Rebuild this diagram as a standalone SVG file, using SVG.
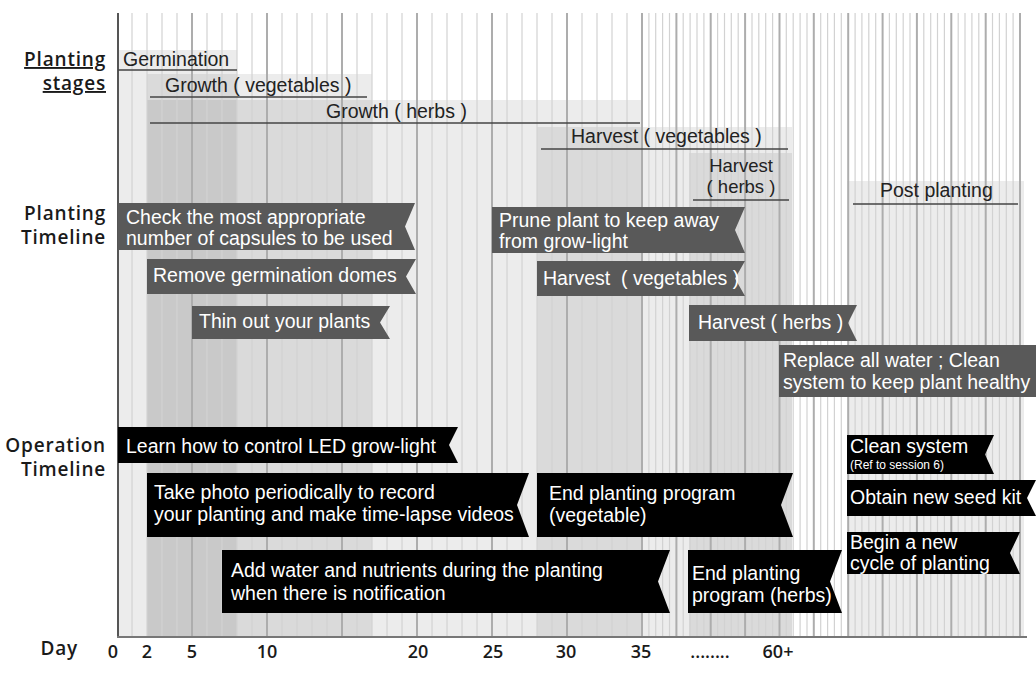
<svg xmlns="http://www.w3.org/2000/svg" width="1036" height="698" viewBox="0 0 1036 698">
<style>
.band{fill:#000;fill-opacity:0.075}
.thin{stroke:#d2d2d2;stroke-width:1.2;fill:none}
.dark{stroke:#adadad;stroke-width:2;fill:none}
.ul{stroke:#444;stroke-width:1.5}
.stage{font-family:"Liberation Sans",Arial,sans-serif;font-size:19.5px;fill:#222}
.side{font-family:"Open Sans","DejaVu Sans",sans-serif;font-weight:600;font-size:19px;letter-spacing:0.8px;fill:#1a1a1a;text-anchor:end}
.num{font-family:"Open Sans","DejaVu Sans",sans-serif;font-weight:600;font-size:18px;fill:#1a1a1a;text-anchor:middle}
.pb{fill:#595959}
.ob{fill:#000}
.bt{font-family:"Liberation Sans",Arial,sans-serif;font-size:19.5px;fill:#fff;white-space:pre}
.small{font-size:12px}
</style>
<g id="background">
<rect class="band" x="118" y="50" width="119" height="587"/>
<rect class="band" x="147" y="74" width="225" height="563"/>
<rect class="band" x="147" y="100" width="495" height="537"/>
<rect class="band" x="537" y="127" width="255" height="510"/>
<rect class="band" x="689" y="153" width="103" height="484"/>
<rect class="band" x="847" y="181" width="177" height="456"/>
<path class="thin" d="M132 13V637M147 13V637M162 13V637M177 13V637M207 13V637M222 13V637M237 13V637M252 13V637M282 13V637M297 13V637M312 13V637M327 13V637M357 13V637M372 13V637M387 13V637M402 13V637M432 13V637M447 13V637M462 13V637M477 13V637M507 13V637M522 13V637M537 13V637M552 13V637M582 13V637M597 13V637M612 13V637M627 13V637M648.9 13V637M655.7 13V637M662.6 13V637M669.5 13V637M683.2 13V637M690.1 13V637M697 13V637M703.9 13V637M717.6 13V637M724.5 13V637M731.3 13V637M738.2 13V637M752 13V637M758.8 13V637M765.7 13V637M772.6 13V637M786.3 13V637M793.2 13V637M800.1 13V637M807 13V637M820.7 13V637M827.6 13V637M834.4 13V637M841.3 13V637M855.1 13V637M861.9 13V637M868.8 13V637M875.7 13V637M889.4 13V637M896.3 13V637M903.2 13V637M910 13V637M923.8 13V637M930.7 13V637M937.5 13V637M944.4 13V637M958.2 13V637M965 13V637M971.9 13V637M978.8 13V637M992.5 13V637M999.4 13V637M1006.3 13V637M1013.1 13V637"/>
<path class="dark" d="M192 13V637M267 13V637M342 13V637M417 13V637M492 13V637M567 13V637M642 13V637M676.4 13V637M710.7 13V637M745.1 13V637M779.5 13V637M813.8 13V637M848.2 13V637M882.6 13V637M916.9 13V637M951.3 13V637M985.7 13V637M1020 13V637"/>
<line x1="118" y1="13" x2="118" y2="637" stroke="#555" stroke-width="2"/>
<line x1="117" y1="637" x2="1027" y2="637" stroke="#777" stroke-width="2"/>
</g>
<g id="labels">
<text class="side" x="106" y="66" text-decoration="underline">Planting</text>
<text class="side" x="106" y="90" text-decoration="underline">stages</text>
<text class="side" x="106" y="220">Planting</text>
<text class="side" x="106" y="244">Timeline</text>
<text class="side" x="106" y="452">Operation</text>
<text class="side" x="106" y="476">Timeline</text>
<text class="side" x="78" y="655">Day</text>
<text class="num" x="113" y="658">0</text>
<text class="num" x="147" y="658">2</text>
<text class="num" x="192" y="658">5</text>
<text class="num" x="267" y="658">10</text>
<text class="num" x="418" y="658">20</text>
<text class="num" x="493" y="658">25</text>
<text class="num" x="566" y="658">30</text>
<text class="num" x="641" y="658">35</text>
<text class="num" x="710" y="658">........</text>
<text class="num" x="778" y="658">60+</text>
</g>
<g id="stage-germination">
<text class="stage" x="123" y="66">Germination</text>
<line class="ul" x1="118" y1="70" x2="237" y2="70"/>
</g>
<g id="stage-growth-veg">
<text class="stage" x="165" y="92">Growth ( vegetables )</text>
<line class="ul" x1="150" y1="97" x2="367" y2="97"/>
</g>
<g id="stage-growth-herbs">
<text class="stage" x="326" y="118">Growth ( herbs )</text>
<line class="ul" x1="150" y1="123" x2="640" y2="123"/>
</g>
<g id="stage-harvest-veg">
<text class="stage" x="571" y="143">Harvest ( vegetables )</text>
<line class="ul" x1="541" y1="149" x2="788" y2="149"/>
</g>
<g id="stage-harvest-herbs">
<text class="stage" x="741" y="172" text-anchor="middle" style="font-size:18.5px">Harvest</text>
<text class="stage" x="741" y="193" text-anchor="middle" style="font-size:18.5px">( herbs )</text>
<line class="ul" x1="693" y1="200" x2="789" y2="200"/>
</g>
<g id="stage-post">
<text class="stage" x="880" y="197">Post planting</text>
<line class="ul" x1="853" y1="204" x2="1018" y2="204"/>
</g>
<g id="p1">
<path class="pb" d="M118 203H415L405 226.5L415 250H118Z"/>
<text class="bt" x="126" y="224">Check the most appropriate</text>
<text class="bt" x="126" y="245">number of capsules to be used</text>
</g>
<g id="p2">
<path class="pb" d="M147 259H416L406 276.5L416 294H147Z"/>
<text class="bt" x="153" y="282">Remove germination domes</text>
</g>
<g id="p3">
<path class="pb" d="M192 306H390L380 322.5L390 339H192Z"/>
<text class="bt" x="199" y="328">Thin out your plants</text>
</g>
<g id="p4">
<path class="pb" d="M492 207H745L735 230L745 253H492Z"/>
<text class="bt" x="499" y="227">Prune plant to keep away</text>
<text class="bt" x="499" y="248">from grow-light</text>
</g>
<g id="p5">
<path class="pb" d="M537 261H745L735 278.5L745 296H537Z"/>
<text class="bt" x="543" y="285">Harvest  ( vegetables )</text>
</g>
<g id="p6">
<path class="pb" d="M689 305H857L848 323L857 341H689Z"/>
<text class="bt" x="698" y="329">Harvest ( herbs )</text>
</g>
<g id="p7">
<path class="pb" d="M779 345H1040V397H779Z"/>
<text class="bt" x="783" y="367">Replace all water ; Clean</text>
<text class="bt" x="783" y="389">system to keep plant healthy</text>
</g>
<g id="o1">
<path class="ob" d="M118 427H458L449 445L458 463H118Z"/>
<text class="bt" x="126" y="453">Learn how to control LED grow-light</text>
</g>
<g id="o2">
<path class="ob" d="M147 473H529L517 505L529 537H147Z"/>
<text class="bt" x="154" y="499">Take photo periodically to record</text>
<text class="bt" x="154" y="521">your planting and make time-lapse videos</text>
</g>
<g id="o3">
<path class="ob" d="M222 550H670L658 581.5L670 613H222Z"/>
<text class="bt" x="231" y="577">Add water and nutrients during the planting</text>
<text class="bt" x="231" y="600">when there is notification</text>
</g>
<g id="o4">
<path class="ob" d="M537 473H793L781 505L793 537H537Z"/>
<text class="bt" x="549" y="500">End planting program</text>
<text class="bt" x="549" y="522">(vegetable)</text>
</g>
<g id="o5">
<path class="ob" d="M688 550H842L830 581.5L842 613H688Z"/>
<text class="bt" x="692" y="580">End planting</text>
<text class="bt" x="692" y="602">program (herbs)</text>
</g>
<g id="o6">
<path class="ob" d="M847 435H994L985 454.5L994 474H847Z"/>
<text class="bt" x="850" y="453">Clean system</text>
<text class="bt small" x="850" y="469">(Ref to session 6)</text>
</g>
<g id="o7">
<path class="ob" d="M847 480H1036L1027 498L1036 516H847Z"/>
<text class="bt" x="850" y="504">Obtain new seed kit</text>
</g>
<g id="o8">
<path class="ob" d="M847 532H1020L1010 553L1020 574H847Z"/>
<text class="bt" x="850" y="549">Begin a new</text>
<text class="bt" x="850" y="570">cycle of planting</text>
</g>
<g id="connectors"/>
</svg>
